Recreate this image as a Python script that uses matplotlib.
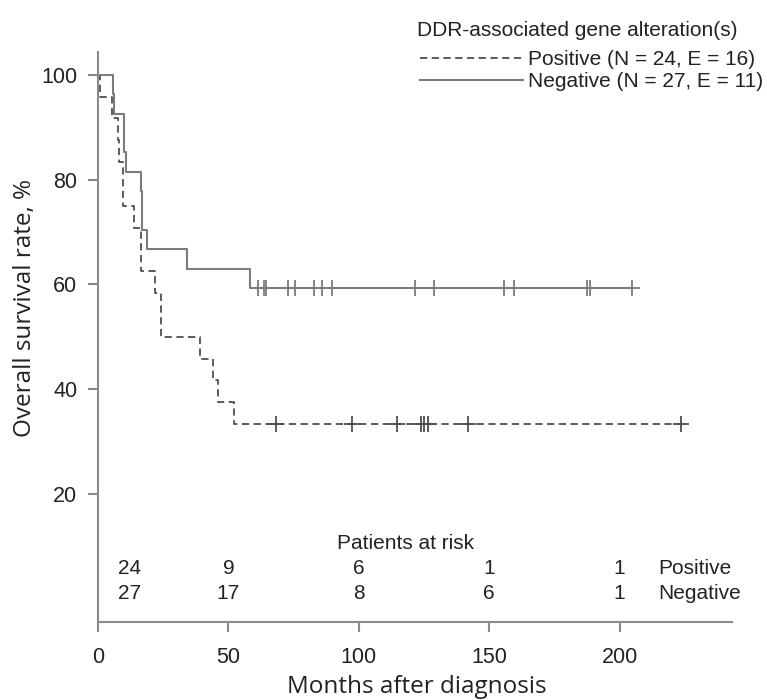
import matplotlib
matplotlib.use("Agg")
import matplotlib.pyplot as plt

plt.rcParams['font.family'] = ['Liberation Sans', 'DejaVu Sans']

# Kaplan-Meier steps (months, survival %)
pos_t = [0, 0.8, 5.2, 7.8, 8.0, 9.6, 9.7, 13.9, 16.4, 16.6, 21.8, 24.0, 24.2, 39.1, 43.9, 46.1, 52.1]
pos_s = [100, 95.8, 91.7, 87.5, 83.3, 79.2, 75.0, 70.8, 66.7, 62.5, 58.3, 54.2, 50.0, 45.8, 41.7, 37.5, 33.3]
pos_cens = [68.2, 97.3, 114.6, 123.8, 124.9, 126.4, 141.8, 223.4]

neg_t = [0, 5.6, 6.1, 10.1, 10.7, 16.6, 16.8, 17.0, 18.7, 34.0, 58.2]
neg_s = [100, 96.3, 92.6, 85.2, 81.5, 77.8, 74.1, 70.4, 66.7, 63.0, 59.3]
neg_cens = [61.2, 63.7, 64.6, 72.9, 75.7, 82.9, 85.9, 89.8, 121.7, 128.7,
            155.7, 159.5, 187.5, 188.5, 204.7]

risk_times = [12, 50, 100, 150, 200]
risk_pos = [24, 9, 6, 1, 1]
risk_neg = [27, 17, 8, 6, 1]

pos_label = "Positive (N = 24, E = 16)"
neg_label = "Negative (N = 27, E = 11)"

fig = plt.figure(figsize=(7.67, 7.0), dpi=100)
ax = fig.add_axes([0.1278, 0.1119, 0.954 - 0.1278, 0.9257 - 0.1119])

axis_col = '#8a8a8a'
pos_col = '#4e4e4e'
neg_col = '#7c7c7c'
txt_col = '#222222'

# extend each curve to its last censor
pt = pos_t + [max(pos_cens)]
ps = pos_s + [pos_s[-1]]
nt = neg_t + [max(neg_cens)]
ns = neg_s + [neg_s[-1]]

ax.step(pt, ps, where='post', color=pos_col, lw=1.3, ls=(0, (4, 2.5)), label=pos_label)
ax.step(nt, ns, where='post', color=neg_col, lw=1.5, label=neg_label)
ax.plot(pos_cens, [pos_s[-1]] * len(pos_cens), ls='none', marker='+', ms=12,
        mew=1.3, color=pos_col)
ax.plot(neg_cens, [neg_s[-1]] * len(neg_cens), ls='none', marker='+', ms=12,
        mew=1.3, color=neg_col)

ax.set_xlim(0, 243)
ax.set_ylim(-4.5, 104.4)
ax.set_xticks([0, 50, 100, 150, 200])
ax.set_yticks([20, 40, 60, 80, 100])
for s in ['top', 'right']:
    ax.spines[s].set_visible(False)
for s in ['left', 'bottom']:
    ax.spines[s].set_color(axis_col)
    ax.spines[s].set_linewidth(1.5)
ax.tick_params(direction='out', length=7, width=1.5, color=axis_col,
               labelsize=15.5, labelcolor=txt_col, pad=11)
ax.tick_params(axis='y', pad=8)

# patients at risk table
fs = 15
ax.text(118, 10.5, "Patients at risk", ha='center', va='center', fontsize=fs, color=txt_col)
for t, a, b in zip(risk_times, risk_pos, risk_neg):
    ax.text(t, 5.7, str(a), ha='center', va='center', fontsize=fs, color=txt_col)
    ax.text(t, 0.8, str(b), ha='center', va='center', fontsize=fs, color=txt_col)
ax.text(215, 5.7, "Positive", ha='left', va='center', fontsize=fs, color=txt_col)
ax.text(215, 0.8, "Negative", ha='left', va='center', fontsize=fs, color=txt_col)

# legend
fig.text(417 / 767, 1 - 31 / 700, "DDR-associated gene alteration(s)", ha='left',
         va='center', fontsize=15, color=txt_col)
leg = ax.legend(loc='upper left', bbox_to_anchor=(420 / 767, 1 - 50 / 700),
                bbox_transform=fig.transFigure, frameon=False, fontsize=15,
                handlelength=4.95, handletextpad=0.24, labelspacing=0.14,
                borderpad=0, borderaxespad=0)
for t in leg.get_texts():
    t.set_color(txt_col)

fig.text(25 / 767, 1 - 308 / 700, "Overall survival rate, %", rotation=90,
         ha='center', va='center', fontsize=17.5, family=['Open Sans', 'DejaVu Sans'],
         color=txt_col)
fig.text(417 / 767, 1 - 687 / 700, "Months after diagnosis", ha='center', va='center',
         fontsize=17.5, family=['Open Sans', 'DejaVu Sans'], color=txt_col)

fig.savefig('out.png', dpi=100)
